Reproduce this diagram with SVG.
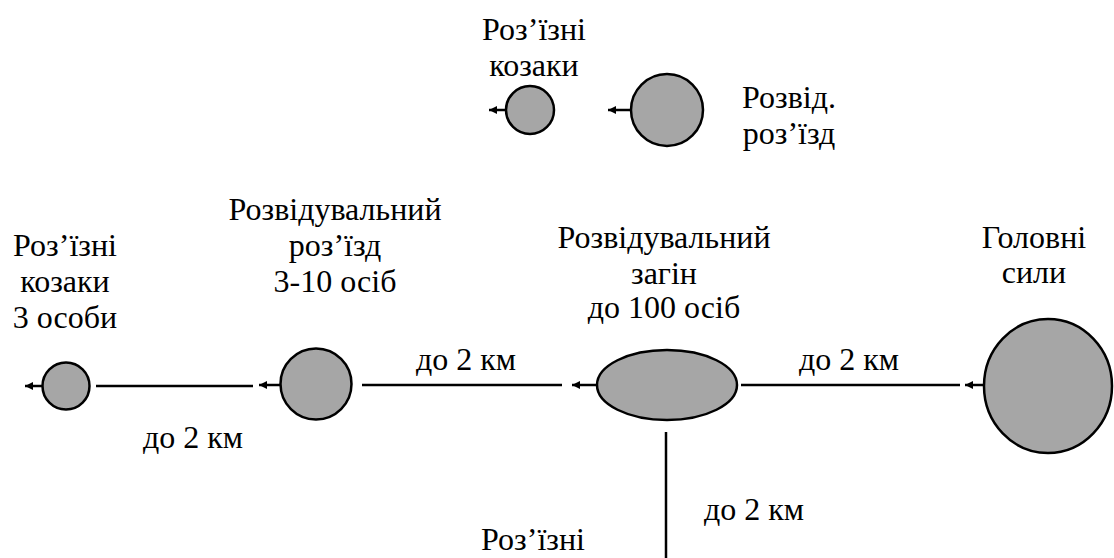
<svg xmlns="http://www.w3.org/2000/svg" width="1114" height="558" viewBox="0 0 1114 558">
<style>
.t{font-family:'Liberation Serif',Tinos,'Times New Roman',serif;font-size:32px;text-anchor:middle;fill:#000;stroke:none}
.u{fill:#a6a6a6;stroke:#000;stroke-width:2.5}
.c{stroke:#000;stroke-width:2.5}
</style>
<defs>
<marker id="ah" markerUnits="userSpaceOnUse" markerWidth="10" markerHeight="10" refX="8" refY="4" orient="auto">
<path d="M0,0 L8,4 L0,8 z" fill="#000"/>
</marker>
</defs>
<rect width="1114" height="558" fill="#fff"/>
<g id="top-kozaky">
<circle class="u" cx="530" cy="110" r="24"/>
<text class="t" x="534" y="40">Роз&#x2019;&#x457;зні</text>
<text class="t" x="534" y="76">козаки</text>
</g>
<g id="top-rozizd">
<circle class="u" cx="667" cy="110" r="36"/>
<text class="t" x="789" y="108">Розвід.</text>
<text class="t" x="789" y="144">роз&#x2019;&#x457;зд</text>
</g>
<g id="left-kozaky">
<circle class="u" cx="66" cy="386" r="23.5"/>
<text class="t" x="65" y="256">Роз&#x2019;&#x457;зні</text>
<text class="t" x="65" y="292">козаки</text>
<text class="t" x="65" y="328">3 особи</text>
</g>
<g id="rozizd">
<circle class="u" cx="316" cy="384" r="35.5"/>
<text class="t" x="335" y="220">Розвідувальний</text>
<text class="t" x="335" y="256">роз&#x2019;&#x457;зд</text>
<text class="t" x="335" y="292">3-10 осіб</text>
</g>
<g id="zahin">
<ellipse class="u" cx="667" cy="385" rx="70" ry="35"/>
<text class="t" x="664" y="248">Розвідувальний</text>
<text class="t" x="664" y="284">загін</text>
<text class="t" x="664" y="318">до 100 осіб</text>
</g>
<g id="holovni">
<ellipse class="u" cx="1048" cy="386" rx="64" ry="67"/>
<text class="t" x="1034" y="248">Головні</text>
<text class="t" x="1034" y="283">сили</text>
</g>
<g id="bottom-kozaky">
<text class="t" x="533" y="550">Роз&#x2019;&#x457;зні</text>
</g>
<g id="connectors" class="c">
<line x1="506" y1="110" x2="489" y2="110" marker-end="url(#ah)"/>
<line x1="631" y1="110" x2="608" y2="110" marker-end="url(#ah)"/>
<line x1="42" y1="386" x2="25" y2="386" marker-end="url(#ah)"/>
<line x1="96" y1="386" x2="253" y2="386"/>
<line x1="281" y1="385" x2="259" y2="385" marker-end="url(#ah)"/>
<line x1="362" y1="385" x2="562" y2="385"/>
<line x1="597" y1="385" x2="572" y2="385" marker-end="url(#ah)"/>
<line x1="741" y1="385" x2="960" y2="385"/>
<line x1="984" y1="385" x2="965" y2="385" marker-end="url(#ah)"/>
<line x1="666" y1="432" x2="666" y2="558"/>
</g>
<g id="labels">
<text class="t" x="193" y="448">до 2 км</text>
<text class="t" x="466" y="370">до 2 км</text>
<text class="t" x="849" y="370">до 2 км</text>
<text class="t" x="754" y="520">до 2 км</text>
</g>
</svg>
